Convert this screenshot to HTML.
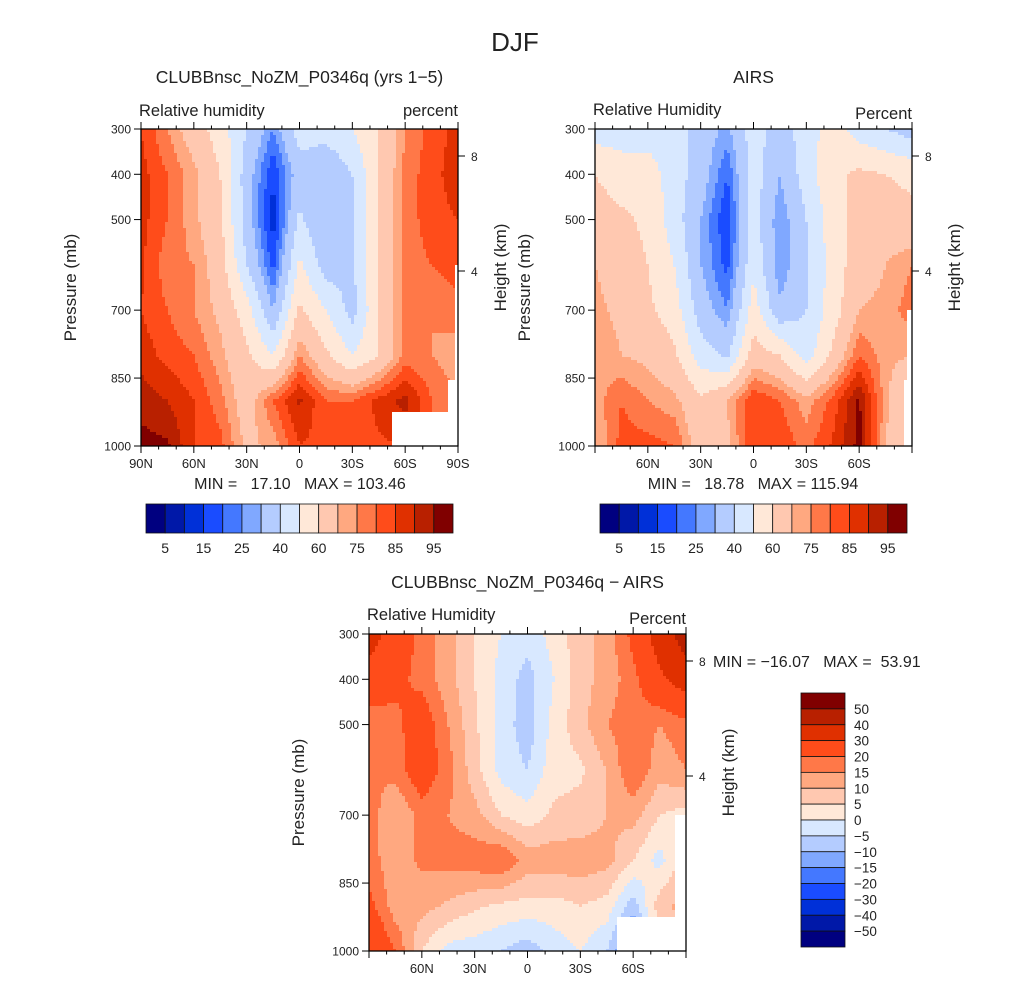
<!DOCTYPE html>
<html><head><meta charset="utf-8">
<style>
body{margin:0;background:#fff;}
svg text{font-family:"Liberation Sans",sans-serif;fill:#222;white-space:pre;}
</style></head>
<body>
<svg id="fig" width="1030" height="983" viewBox="0 0 1030 983" xmlns="http://www.w3.org/2000/svg">
<rect width="1030" height="983" fill="#fff"/>
<text x="515" y="51" font-size="26" text-anchor="middle" fill="#444">DJF</text>
</svg>
<script>
// ---- data ----
const lats = [90,75,60,45,30,15,0,-15,-30,-45,-60,-75,-90];
const pres = [300,400,500,600,700,800,900,1000];
const rhModel = [
 [85,75,65,55,40,25,45,45,50,60,75,82,87],
 [87,80,72,60,35,15,35,30,40,60,77,83,88],
 [87,80,72,62,35,12,42,30,38,62,77,83,85],
 [86,77,75,65,40,18,52,35,38,62,77,80,83],
 [85,80,75,68,55,30,62,50,36,60,77,75,78],
 [88,83,80,72,62,50,75,62,50,60,77,75,72],
 [93,90,85,77,65,80,91,80,80,87,92,80,75],
 [97,96,85,82,68,72,85,83,82,84,85,80,75]];
const rhAirs = [
 [45,45,45,45,35,28,45,35,45,55,45,40,35],
 [60,55,55,45,35,20,45,30,45,58,62,60,58],
 [65,62,58,45,30,15,45,25,40,55,65,65,62],
 [70,65,60,50,30,18,48,25,38,55,65,70,75],
 [72,68,62,55,35,25,55,32,40,55,70,72,78],
 [75,70,68,62,45,38,65,60,45,62,80,72,70],
 [72,80,75,72,62,70,85,80,72,82,96,72,55],
 [70,82,82,80,65,68,85,84,78,86,97,70,60]];
const rhDiff = [
 [35,25,18,12,5,0,-3,2,8,12,22,35,45],
 [25,22,18,12,5,-2,-7,0,8,12,18,28,35],
 [17,18,25,15,6,-2,-8,2,8,15,18,15,18],
 [15,17,25,17,7,-2,-5,3,4,10,20,12,15],
 [18,10,17,15,12,5,2,6,7,10,12,5,3],
 [17,12,16,17,18,20,13,13,13,12,5,-2,8],
 [22,12,12,9,6,4,3,3,5,3,-8,8,12],
 [30,20,5,-2,-3,-5,-8,-3,0,-5,-20,5,12]];
const levelsRH = [5,10,15,20,25,30,40,50,60,70,75,80,85,90,95];
const levelsDiff = [-50,-40,-30,-20,-15,-10,-5,0,5,10,15,20,30,40,50];
const rhBarLabels = ["5","15","25","40","60","75","85","95"];
const diffBarLabels = ["50","40","30","20","15","10","5","0","\u22125","\u221210","\u221215","\u221220","\u221230","\u221240","\u221250"];
const pTicks = [300,400,500,700,850,1000];
const latTicks = [90,60,30,0,-30,-60,-90];
const colors = ["#000080","#0018a8","#0030d8","#1a4cff","#4478ff","#80a8ff","#b4ccff","#d8e8ff","#ffe8d8","#ffc8b0","#ffa880","#ff7848","#ff4c1a","#e03000","#b82000","#800000"];
// ---- helpers ----
const NS="http://www.w3.org/2000/svg";
const svg=document.getElementById('fig');
function mk(tag,attrs,parent){const e=document.createElementNS(NS,tag);for(const k in attrs)e.setAttribute(k,attrs[k]);(parent||svg).appendChild(e);return e;}
function txt(s,x,y,size,anchor,parent,name){const t=mk('text',{x:x,y:y,'font-size':size,'text-anchor':anchor||'start'},parent);t.textContent=s;


return t;}
function colorIdx(v,lv){let i=0;while(i<lv.length&&v>=lv[i])i++;return i;}
function interp(grid,lat,p){
 let j=0;while(j<lats.length-2&&lat<lats[j+1])j++;
 let i=0;while(i<pres.length-2&&p>pres[i+1])i++;
 const fx=(lats[j]-lat)/(lats[j]-lats[j+1]), fy=(p-pres[i])/(pres[i+1]-pres[i]);
 const a=grid[i][j],b=grid[i][j+1],c=grid[i+1][j],d=grid[i+1][j+1];
 return a*(1-fx)*(1-fy)+b*fx*(1-fy)+c*(1-fx)*fy+d*fx*fy;}
function panel(o){
 const g=mk('g',{});
 
 
 const X0=o.x,Y0=o.y,W=317,H=317;
 const xs=lat=>X0+(90-lat)/180*W, ys=p=>Y0+(p-300)/700*H;
 const st=3;
 for(let py=0;py<H;py+=st){
  let runStart=0,runC=-1;
  const pp=300+(py+st/2)/H*700;
  for(let px=0;px<W+st;px+=st){
   let c=-2;
   if(px<W){const lat=90-Math.min(px+st/2,W)/W*180;c=colorIdx(interp(o.data,lat,pp),o.levels);}
   if(c!==runC){
    if(runC>=0){const r=mk('rect',{x:X0+runStart,y:Y0+py,width:Math.min(px,W)-runStart+0.5,height:Math.min(st,H-py)+0.5,fill:colors[runC]},g);
     
     }
    runStart=px;runC=c;}
  }
 }
 (o.mask||[]).forEach(m=>{const r=mk('rect',{x:m[0],y:m[1],width:m[2],height:m[3],fill:'#fff'},g);
  
  });
 const fr=mk('rect',{x:X0,y:Y0,width:W,height:H,fill:'none',stroke:'#000','stroke-width':1.3},g);
 
 
 for(let lat=90;lat>=-90;lat-=10){const x=xs(lat),maj=(lat%30===0),L=maj?7:3.5;
  mk('line',{x1:x,y1:Y0,x2:x,y2:Y0-L,stroke:'#000','stroke-width':1},g);
  mk('line',{x1:x,y1:Y0+H,x2:x,y2:Y0+H+L,stroke:'#000','stroke-width':1},g);}
 latTicks.forEach(lat=>{if(!o.edgeLabels&&Math.abs(lat)===90)return;
  const s=lat===0?'0':(Math.abs(lat)+(lat>0?'N':'S'));txt(s,xs(lat),Y0+H+22,13,'middle',g,'x-tick-label');});
 pTicks.forEach(p=>{const y=ys(p);mk('line',{x1:X0,y1:y,x2:X0-7,y2:y,stroke:'#000','stroke-width':1},g);
  txt(String(p),X0-10,y+4.5,12,'end',g,'y-tick-label');});
 [[8,156],[4,271]].forEach(h=>{const y=Y0+(h[1]-129);mk('line',{x1:X0+W,y1:y,x2:X0+W+7,y2:y,stroke:'#000','stroke-width':1},g);
  txt(String(h[0]),X0+W+13,y+5,12,'start',g,'height-tick-label');});
 const yl=txt('Pressure (mb)',0,0,17,'middle',g,'y-axis-title');yl.setAttribute('transform',`translate(${X0-65},${Y0+H/2}) rotate(-90)`);
 const hl=txt('Height (km)',0,0,17,'middle',g,'height-axis-title');hl.setAttribute('transform',`translate(${X0+W+48},${Y0+H/2-20}) rotate(-90)`);
 txt(o.title,X0+W/2,Y0-46,17.5,'middle',g,'panel-title');
 txt(o.left,X0-2,o.leftY,16.5,'start',g,'variable-name');
 txt(o.right,X0+W,o.rightY,16.5,'end',g,'units-label');
 return g;}
panel({name:'model-panel',x:141,y:129,data:rhModel,levels:levelsRH,edgeLabels:true,title:'CLUBBnsc_NoZM_P0346q (yrs 1\u22125)',left:'Relative humidity',leftY:116,right:'percent',rightY:116,
 mask:[[392,412,56,34],[455,265,3,181],[448,380,10,66]]});
panel({name:'airs-panel',x:595,y:129,data:rhAirs,levels:levelsRH,edgeLabels:false,title:'AIRS',left:'Relative Humidity',leftY:115,right:'Percent',rightY:119,
 mask:[[907,310,5,136],[904,380,8,66]]});
panel({name:'difference-panel',x:369,y:634,data:rhDiff,levels:levelsDiff,edgeLabels:false,title:'CLUBBnsc_NoZM_P0346q \u2212 AIRS',left:'Relative Humidity',leftY:620,right:'Percent',rightY:624,
 mask:[[617,917,69,34],[675,815,11,102]]});
txt('MIN =   17.10   MAX = 103.46',300,489,16,'middle',null,'model-min-max');
txt('MIN =   18.78   MAX = 115.94',753,489,16,'middle',null,'airs-min-max');
txt('MIN = \u221216.07   MAX =  53.91',713,667,16,'start',null,'diff-min-max');
function hbar(x0,name){const g=mk('g',{});
 
 
 const w=307/16;
 colors.forEach((c,i)=>{const r=mk('rect',{x:x0+i*w,y:504,width:w,height:29,fill:c,stroke:'#111','stroke-width':0.8},g);
  
  });
 rhBarLabels.forEach((s,k)=>txt(s,x0+(2*k+1)*w,553,14,'middle',g,'colorbar-label'));}
hbar(146,'model-colorbar');hbar(600,'airs-colorbar');
(function(){const g=mk('g',{});
 
 
 const y0=693,h=254/16;
 colors.slice().reverse().forEach((c,i)=>{const r=mk('rect',{x:801,y:y0+i*h,width:44,height:h,fill:c,stroke:'#111','stroke-width':0.8},g);
  
  });
 diffBarLabels.forEach((s,k)=>txt(s,854,y0+(k+1)*h+5,13.5,'start',g,'colorbar-label'));})();
</script>
</body></html>
